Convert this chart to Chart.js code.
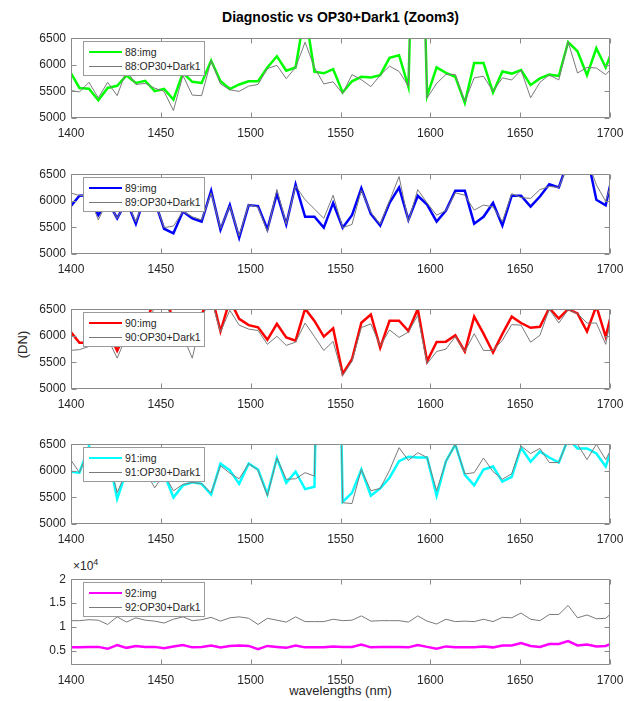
<!DOCTYPE html>
<html><head><meta charset="utf-8">
<script src="https://cdn.jsdelivr.net/npm/chart.js@4.4.0/dist/chart.umd.min.js"></script>
<style>
body{margin:0;background:#fff;width:635px;height:701px;position:relative;overflow:hidden;font-family:"Liberation Sans",Arial,Helvetica,sans-serif;color:#262626;}
canvas.pan{position:absolute;left:0;}
.leg{position:absolute;left:83px;width:122px;height:35px;background:#fff;border:1px solid #9a9a9a;box-sizing:border-box;font-size:10.5px;color:#262626;}
.row{position:absolute;left:0;height:12px;width:120px;}
.sw{position:absolute;left:5px;width:33px;top:50%;}
.lt{position:absolute;left:41px;top:0;line-height:12px;white-space:nowrap;}
.title{position:absolute;left:0;width:681px;top:9px;text-align:center;font-weight:bold;font-size:14px;color:#000;}
.ylab{position:absolute;left:2px;top:337px;width:40px;text-align:center;font-size:13px;transform:rotate(-90deg);}
.xlab{position:absolute;left:0;width:681px;top:683px;text-align:center;font-size:13px;}
.mult{position:absolute;left:73px;top:557px;font-size:12px;}
</style></head>
<body>
<div class="title">Diagnostic vs OP30+Dark1 (Zoom3)</div>
<div class="ylab">(DN)</div>
<div class="xlab">wavelengths (nm)</div>
<div class="mult">×10<sup style="font-size:9px">4</sup></div>
<script>
// ---- data ----
const wavelengths = [1399.5,1404.7,1410.0,1415.2,1420.4,1425.7,1430.9,1436.1,1441.3,1446.6,1451.8,1457.0,1462.3,1467.5,1472.7,1478.0,1483.2,1488.4,1493.6,1498.9,1504.1,1509.3,1514.6,1519.8,1525.0,1530.3,1535.5,1540.7,1545.9,1551.2,1556.4,1561.6,1566.9,1572.1,1577.3,1582.6,1587.8,1593.0,1598.2,1603.5,1608.7,1613.9,1619.2,1624.4,1629.6,1634.9,1640.1,1645.3,1650.5,1655.8,1661.0,1666.2,1671.5,1676.7,1681.9,1687.2,1692.4,1697.6,1702.8];

const img88 = [5870,5565,5550,5335,5565,5605,5800,5660,5700,5505,5545,5345,5850,5680,5660,6080,5690,5545,5630,5690,5690,5950,6160,5890,5950,7000,5870,5840,5920,5480,5690,5775,5760,5805,6130,6180,5585,12000,5415,5950,5850,5775,5285,6035,6035,5480,5875,5835,5900,5620,5745,5815,5790,6425,6255,5805,6310,5950,6400];
const ref88 = [5520,5490,5670,5380,5670,5420,5900,5630,5650,5560,5500,5140,5800,5430,5420,6080,5640,5530,5500,5600,5630,5930,5990,5740,5950,6425,5950,5640,5680,5460,5815,5720,5590,5805,5975,5875,5600,12000,5375,5650,5820,5820,5310,5755,5785,5500,5755,5715,5900,5380,5670,5810,5715,6435,5845,5950,5940,5815,6000];

const img89 = [5885,6095,6105,5730,6000,5670,6000,5565,6100,6000,5475,5390,5800,5670,5610,6190,5455,5920,5305,5920,5900,5465,6135,5555,6310,5700,5700,5495,5960,5495,5730,6235,5755,5535,5960,6250,5640,6095,5930,5610,5815,6190,6190,5570,5700,5960,5535,6095,6095,5890,6080,6310,6250,6750,6900,6860,6020,5915,6700];
const ref89 = [6150,6100,6100,5640,6000,5670,6000,5600,6100,6000,5495,5525,5800,5700,5640,6150,5480,5900,5340,5930,5880,5420,6210,5560,6280,6020,5845,5670,6105,5495,5555,6200,5780,5560,6000,6455,5610,6210,5960,5730,5815,6150,6105,5825,5920,5885,5610,6135,6060,6045,6210,6270,6250,6700,6850,6800,6300,5990,6550];

const img90 = [6090,5870,5870,6000,6100,5720,6100,6000,6200,6700,6900,6250,6100,6000,6400,6800,6085,6670,6320,6200,6160,5925,6225,5970,5910,6510,6280,5985,6140,5285,5560,6245,6400,5775,6285,6285,6090,6505,5520,5885,5890,6010,5705,6360,6040,5685,6035,6360,6240,6150,6170,6520,6325,6500,6420,6080,6560,5980,6700];
const ref90 = [5725,5740,5800,5950,5950,5580,6000,5900,6100,6550,6800,6150,6000,5580,6350,6700,6070,6480,6200,6125,6100,5840,5990,5820,5880,6240,5985,5725,5895,5250,5520,6155,6225,5810,6110,5970,6070,6385,5475,5705,5750,5985,5705,6040,5725,5725,5915,6210,6200,5880,6010,6500,6240,6490,6415,6240,6240,5840,6700];

const img91 = [5985,5965,6465,6100,6350,5470,6000,5950,6050,5800,5950,5500,5725,5785,5755,5555,6135,6010,5755,6135,6025,5560,6240,5775,5985,5655,5700,15000,15000,5415,5585,6025,5530,5670,5870,6180,6265,6250,6250,5530,6180,6495,5925,5725,6025,6080,5795,5885,6435,6170,6365,6250,6155,6600,6420,6420,6325,6080,6600];
const ref91 = [6225,5965,6400,6100,6300,5590,6000,5950,6000,5680,5950,5625,5745,5780,5760,5585,6095,5955,5850,6135,6010,5530,6240,5840,5850,5965,5900,15000,15000,5400,5385,6025,5625,5670,6010,6435,6195,6340,6250,5625,6180,6495,5940,5965,6240,5985,5840,5945,6465,6325,6420,6155,6155,6600,6500,6210,6500,6210,6550];

const img92 = [5700,5700,5800,5800,5400,6200,5600,6000,5800,5800,5500,5900,6200,5700,5800,6100,5700,6000,6100,6000,5300,6000,5800,5600,6100,5700,5700,5700,5900,5800,5800,6300,5700,5800,5800,5800,5700,6200,5800,5400,5900,5700,5700,5700,5900,5700,6100,6100,6600,6000,5800,6400,6400,7000,6100,6300,5900,6000,6800];
const ref92 = [11300,11300,11500,11400,10500,12100,11000,11900,11400,11200,10800,11600,12100,11300,11500,12000,11200,11900,12100,11800,10500,11800,11400,11000,12100,11100,11100,11100,11600,11300,11400,12300,11200,11300,11300,11300,11000,12300,11200,10600,11600,11100,11200,11100,11600,11100,12000,11900,12900,11600,11300,12600,12600,14500,11900,12500,11700,11800,13500];

const xTicks = [1400,1450,1500,1550,1600,1650,1700];
const yTicksDN = [5000,5500,6000,6500];
const yTicks92 = [5000,10000,15000,20000];

const panels = [
  {id:88, img:img88, ref:ref88, color:'#00ff00', top:31,  h:87, min:5000, max:6500, ticks:yTicksDN, scale:1},
  {id:89, img:img89, ref:ref89, color:'#0000ff', top:167, h:87, min:5000, max:6500, ticks:yTicksDN, scale:1},
  {id:90, img:img90, ref:ref90, color:'#ff0000', top:302, h:87, min:5000, max:6500, ticks:yTicksDN, scale:1},
  {id:91, img:img91, ref:ref91, color:'#00ffff', top:437, h:87, min:5000, max:6500, ticks:yTicksDN, scale:1},
  {id:92, img:img92, ref:ref92, color:'#ff00ff', top:572, h:93, min:2000, max:20000, ticks:yTicks92, scale:1e4}
];

Chart.defaults.font.family = '"Liberation Sans", Arial, Helvetica, sans-serif';
Chart.defaults.font.size = 12;
Chart.defaults.color = '#262626';

const boxPlugin = {
  id:'mbox',
  afterDatasetsDraw(chart){
    const {ctx, chartArea:a, scales:{x,y}} = chart;
    ctx.save();
    ctx.strokeStyle = '#8a8a8a'; ctx.lineWidth = 1;
    const L=Math.round(a.left)+0.5, R=Math.round(a.right)-0.5, T=Math.round(a.top)+0.5, B=Math.round(a.bottom)-0.5;
    ctx.beginPath();
    ctx.rect(L,T,R-L,B-T);
    const tl=5;
    x.ticks.forEach(t=>{const px=Math.round(x.getPixelForValue(t.value))+0.5; ctx.moveTo(px,B); ctx.lineTo(px,B-tl); ctx.moveTo(px,T); ctx.lineTo(px,T+tl);});
    y.ticks.forEach(t=>{const py=Math.round(y.getPixelForValue(t.value))+0.5; ctx.moveTo(L,py); ctx.lineTo(L+tl,py); ctx.moveTo(R,py); ctx.lineTo(R-tl,py);});
    ctx.stroke(); ctx.restore();
  }
};

panels.forEach(p=>{
  const H = 5 + p.h + 22 + 14;
  const c = document.createElement('canvas');
  c.className='pan'; c.width=635; c.height=H;
  c.style.top=(p.top-5)+'px'; c.style.width='635px'; c.style.height=H+'px';
  document.body.appendChild(c);
  const ch = new Chart(c, {
    type:'line',
    data:{datasets:[
      {label:p.id+':img', data:wavelengths.map((w,i)=>({x:w,y:p.img[i]})), borderColor:p.color, backgroundColor:p.color, borderWidth:2.5, pointRadius:0, tension:0, clip:0, order:1},
      {label:p.id+':OP30+Dark1', data:wavelengths.map((w,i)=>({x:w,y:p.ref[i]})), borderColor:'#7a7a7a', backgroundColor:'#7a7a7a', borderWidth:1, pointRadius:0, tension:0, clip:0, order:0}
    ]},
    options:{
      responsive:false, animation:false, events:[],
      layout:{padding:{left:11,right:25,top:5,bottom:14}},
      plugins:{legend:{display:false}, tooltip:{enabled:false}, title:{display:false}},
      scales:{
        x:{type:'linear', min:1400, max:1700,
           afterBuildTicks:s=>{s.ticks = xTicks.map(v=>({value:v}));},
           afterFit:s=>{s.height=22;},
           grid:{display:false, drawTicks:false}, border:{display:false},
           ticks:{padding:8, maxRotation:0, autoSkip:false, color:'#262626', font:{size:12}, callback:v=>String(v)}},
        y:{type:'linear', min:p.min, max:p.max,
           afterBuildTicks:s=>{s.ticks = p.ticks.map(v=>({value:v}));},
           afterFit:s=>{s.width=60;},
           grid:{display:false, drawTicks:false}, border:{display:false},
           ticks:{padding:5, color:'#262626', font:{size:12}, callback:v=>String(v/p.scale)}}
      }
    },
    plugins:[boxPlugin]
  });
  // MATLAB-style legend box drawn over the axes
  const lg = document.createElement('div');
  lg.className='leg'; lg.style.top=(p.top+10)+'px';
  ch.data.datasets.forEach((d,k)=>{
    const r=document.createElement('div'); r.className='row'; r.style.top=(4+k*14)+'px';
    const sw=document.createElement('div'); sw.className='sw';
    sw.style.height=d.borderWidth+'px'; sw.style.marginTop=(-d.borderWidth/2)+'px'; sw.style.background=d.borderColor;
    const t=document.createElement('div'); t.className='lt'; t.textContent=d.label;
    r.appendChild(sw); r.appendChild(t); lg.appendChild(r);
  });
  document.body.appendChild(lg);
});
</script>
</body></html>
